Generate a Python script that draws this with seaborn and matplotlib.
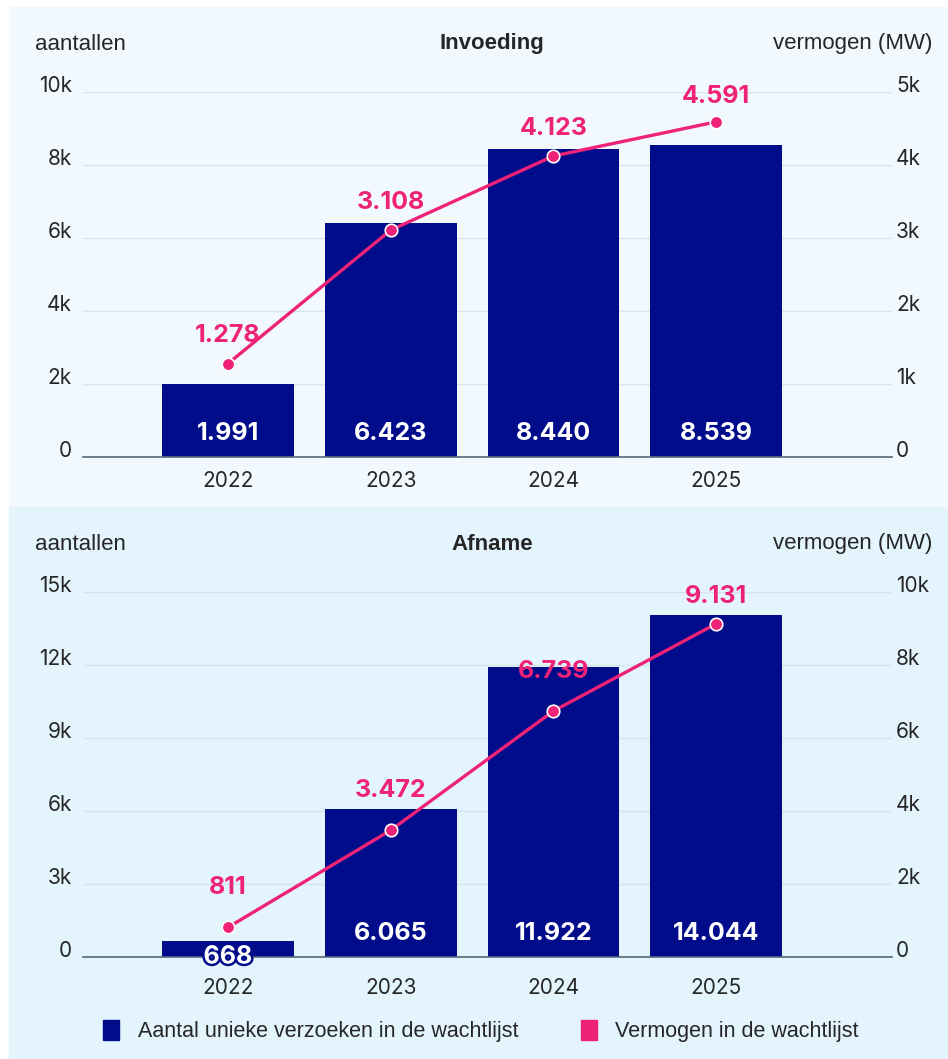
import seaborn as sns
import matplotlib.pyplot as plt
import matplotlib.patheffects as pe
import pandas as pd
from matplotlib.patches import Rectangle, Patch
from matplotlib.ticker import FuncFormatter

# data
jaren = ["2022", "2023", "2024", "2025"]
invoeding_aantal = [1991, 6423, 8440, 8539]
invoeding_mw = [1278, 3108, 4123, 4591]
afname_aantal = [668, 6065, 11922, 14044]
afname_mw = [811, 3472, 6739, 9131]

NAVY = "#000c8a"
PINK = "#ee2277"
GRID = "#d6e4ed"
W, H = 948, 1059
ARIAL = ["Liberation Sans", "DejaVu Sans"]

sns.set_theme(style="white")
plt.rcParams["font.family"] = ["Inter", "DejaVu Sans"]


def nl(v):
    return f"{v:,}".replace(",", ".")


def kfmt(v, _):
    return "0" if v == 0 else f"{v / 1000:g}k"


def draw_panel(fig, rect, title, title_y, aantal, mw, ymax_l, ymax_r, line_off, xpad):
    ax = fig.add_axes(rect)
    ax.set_facecolor("none")
    df = pd.DataFrame({"jaar": jaren, "aantal": aantal, "mw": mw})
    sns.barplot(data=df, x="jaar", y="aantal", color=NAVY, saturation=1,
                width=0.81, edgecolor="none", linewidth=0, ax=ax, zorder=2)
    ax.set_ylim(0, ymax_l)
    ax.set_yticks([ymax_l / 5 * i for i in range(6)])
    ax.yaxis.set_major_formatter(FuncFormatter(kfmt))
    ax.grid(axis="y", color=GRID, linewidth=1, zorder=0)
    ax.set_axisbelow(True)
    for s in ["left", "right", "top"]:
        ax.spines[s].set_visible(False)
    ax.spines["bottom"].set_color("#56697a")
    ax.spines["bottom"].set_linewidth(1.2)
    ax.tick_params(axis="x", length=0, pad=xpad, labelsize=15)
    ax.tick_params(axis="y", length=0, pad=8, labelsize=15)
    ax.set_xlabel("")
    ax.set_ylabel("")

    ax_h = rect[3] * H
    for i, v in enumerate(aantal):
        bar_px = v / ymax_l * ax_h
        if bar_px > 40:
            ax.annotate(nl(v), (i, 0), xytext=(0, 24), textcoords="offset pixels",
                        ha="center", va="center", color="white",
                        fontsize=18, fontweight="bold", zorder=5)
        else:
            # short bar: label sits on the baseline with a navy outline
            t = ax.annotate(nl(v), (i, 0), xytext=(0, 0), textcoords="offset pixels",
                            ha="center", va="center", color="white",
                            fontsize=18, fontweight="bold", zorder=5)
            t.set_path_effects([pe.withStroke(linewidth=3.5, foreground=NAVY)])

    ax2 = ax.twinx()
    sns.pointplot(data=df, x="jaar", y="mw", color=PINK, errorbar=None,
                  markers="o", markersize=9, markeredgecolor="white",
                  markeredgewidth=1.2, linewidth=2.4, ax=ax2)
    ax2.set_ylim(0, ymax_r)
    ax2.set_yticks([ymax_r / 5 * i for i in range(6)])
    ax2.yaxis.set_major_formatter(FuncFormatter(kfmt))
    for s in ax2.spines.values():
        s.set_visible(False)
    ax2.tick_params(axis="y", length=0, pad=3, labelsize=15)
    ax2.set_xlabel("")
    ax2.set_ylabel("")
    for i, v in enumerate(mw):
        room = (ymax_r - v) / ymax_r * ax_h - 5
        ax2.annotate(nl(v), (i, v), xytext=(0, min(line_off, room)),
                     textcoords="offset pixels", ha="center", va="center",
                     color=PINK, fontsize=18, fontweight="bold")

    for a in (ax, ax2):
        a.set_xlim(-0.89, 4.08)
        for lbl in a.get_yticklabels():
            lbl.set_va("baseline")

    fig.text(35 / W, 1 - title_y / H, "aantallen", ha="left", va="center",
             fontsize=16, family=ARIAL)
    fig.text(932 / W, 1 - title_y / H, "vermogen (MW)", ha="right", va="center",
             fontsize=16, family=ARIAL)
    fig.text(492 / W, 1 - title_y / H, title, ha="center", va="center",
             fontsize=16, fontweight="bold", family=ARIAL)
    return ax, ax2


fig = plt.figure(figsize=(W / 100, H / 100), dpi=100)
fig.patch.set_facecolor("white")
fig.patches.append(Rectangle((9 / W, 1 - 507 / H), 1 - 9 / W, 500 / H,
                             transform=fig.transFigure, color="#f1f9fe", zorder=-10))
fig.patches.append(Rectangle((9 / W, 0), 1 - 9 / W, 1 - 507 / H,
                             transform=fig.transFigure, color="#e3f4fd", zorder=-10))

draw_panel(fig, [83 / W, 1 - 457 / H, 809 / W, 365 / H], "Invoeding", 44,
           invoeding_aantal, invoeding_mw, 10000, 5000, 28, 10)
draw_panel(fig, [83 / W, 1 - 957 / H, 809 / W, 365 / H], "Afname", 544,
           afname_aantal, afname_mw, 15000, 10000, 40, 15)

handles = [Patch(color=NAVY, label="Aantal unieke verzoeken in de wachtlijst"),
           Patch(color=PINK, label="Vermogen in de wachtlijst")]
fig.legend(handles=handles, loc="center", bbox_to_anchor=(481 / W, 1 - 1031 / H),
           ncol=2, frameon=False, handlelength=0.75, handleheight=1.1,
           handletextpad=0.85, columnspacing=2.9,
           prop={"family": ARIAL, "size": 15.5})

fig.savefig("out.png", dpi=100, facecolor=fig.get_facecolor())
